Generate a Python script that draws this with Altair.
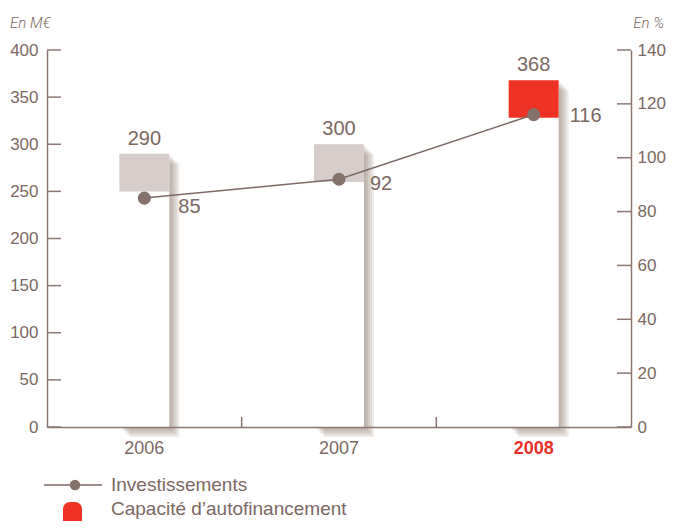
import altair as alt
import pandas as pd

# ---- data ----
years = ["2006", "2007", "2008"]
caf = [290, 300, 368]            # Capacité d'autofinancement (M€), bar tops
cap_low = [250, 260, 328]        # lower edge of the coloured top block
invest_pct = [85, 92, 116]       # Investissements (%), right axis
left_ticks = [0, 50, 100, 150, 200, 250, 300, 350, 400]
right_ticks = [0, 20, 40, 60, 80, 100, 120, 140]

# ---- styles ----
TXT = "#7b6863"
AXIS = "#8a7772"
LINE = "#7c6964"
DOT = "#85716b"
GREY = "#d7cdca"
RED = "#ee3325"
RED_TXT = "#e8302a"
SHADOW = "#8f766e"
FONT = "Liberation Sans"
W, H = 584, 377

df = pd.DataFrame({"year": years, "caf": caf, "cap_low": cap_low, "pct": invest_pct})

x_scale = alt.Scale(domain=years, paddingInner=0, paddingOuter=0)
x_axis = alt.Axis(title=None, ticks=False, labelPadding=12, labelFontSize=18,
                  labelFont=FONT, labelAngle=0,
                  labelColor={"expr": f"datum.value === '2008' ? '{RED_TXT}' : '{TXT}'"},
                  labelFontWeight={"expr": "datum.value === '2008' ? 'bold' : 'normal'"},
                  domainColor=AXIS, domainWidth=1.5, zindex=1)
x_enc = alt.X("year:N", scale=x_scale, axis=x_axis, sort=years)

ls = alt.Scale(domain=[0, 400], nice=False, zero=True)
rs = alt.Scale(domain=[0, 140], nice=False, zero=True)

base = alt.Chart(df)

layers = []
# soft drop shadows
for k in [2, 4, 6, 8, 10]:
    layers.append(base.mark_bar(size=50, xOffset=k, yOffset=k, color=SHADOW, opacity=0.15).encode(
        x=x_enc, y=alt.Y("caf:Q", scale=ls, axis=None)))

# white bar body
layers.append(base.mark_bar(size=50, color="white").encode(
    x=x_enc,
    y=alt.Y("caf:Q", scale=ls,
            axis=alt.Axis(orient="left", values=left_ticks, ticks=False, grid=False, title=None,
                          labelFontSize=17, labelFont=FONT, labelColor=TXT, labelPadding=9,
                          labelFlush=False, labelOverlap=False,
                          domainColor=AXIS, domainWidth=1.5, zindex=1))))

# coloured top block
layers.append(base.mark_bar(size=50).encode(
    x=x_enc,
    y=alt.Y("cap_low:Q", scale=ls, axis=None),
    y2="caf:Q",
    color=alt.condition(alt.datum.year == "2008", alt.value(RED), alt.value(GREY))))

# bar value labels
layers.append(base.mark_text(baseline="alphabetic", dy=-9, fontSize=20, font=FONT, color=TXT).encode(
    x=x_enc, y=alt.Y("caf:Q", scale=ls, axis=None), text="caf:Q"))

# inward ticks, left axis
layers.append(alt.Chart(pd.DataFrame({"v": left_ticks})).mark_rule(color=AXIS, strokeWidth=1.5).encode(
    y=alt.Y("v:Q", scale=ls, axis=None), x=alt.value(0), x2=alt.value(14)))

# inward ticks, right axis
layers.append(alt.Chart(pd.DataFrame({"v": right_ticks})).mark_rule(color=AXIS, strokeWidth=1.5).encode(
    y=alt.Y("v:Q", scale=rs, axis=None), x=alt.value(W - 14), x2=alt.value(W)))

# x ticks between categories
layers.append(base.transform_filter(alt.datum.year != "2006").mark_rule(color=AXIS, strokeWidth=1.5).encode(
    x=alt.X("year:N", scale=x_scale, axis=x_axis, sort=years, bandPosition=0),
    y=alt.value(H), y2=alt.value(H - 10)))

# investment line (right axis)
layers.append(base.mark_line(color=LINE, strokeWidth=1.5).encode(
    x=x_enc,
    y=alt.Y("pct:Q", scale=rs,
            axis=alt.Axis(orient="right", values=right_ticks, ticks=False, grid=False, title=None,
                          labelFontSize=17, labelFont=FONT, labelColor=TXT, labelPadding=6,
                          labelFlush=False, labelOverlap=False,
                          domainColor=AXIS, domainWidth=1.5, zindex=1))))
layers.append(base.mark_point(filled=True, size=170, color=DOT, opacity=1).encode(
    x=x_enc, y=alt.Y("pct:Q", scale=rs, axis=None)))

# line value labels
offsets = {"2006": (34, 9), "2007": (31, 5), "2008": (36, 1)}
for yr, (dx, dy) in offsets.items():
    layers.append(base.transform_filter(alt.datum.year == yr).mark_text(
        align="left", baseline="middle", dx=dx, dy=dy, fontSize=20, font=FONT, color=TXT).encode(
        x=x_enc, y=alt.Y("pct:Q", scale=rs, axis=None), text="pct:Q"))

one = alt.Chart(alt.Data(values=[{"a": 1}]))
# unit titles
layers.append(one.mark_text(align="left", baseline="alphabetic", fontSize=15, font="Roboto",
                            fontStyle="italic", fontWeight=300, color=TXT).encode(
    x=alt.value(-37), y=alt.value(-22), text=alt.value("En M€")))
layers.append(one.mark_text(align="right", baseline="alphabetic", fontSize=15, font="Roboto",
                            fontStyle="italic", fontWeight=300, color=TXT).encode(
    x=alt.value(617), y=alt.value(-22), text=alt.value("En %")))

# manual legend
layers.append(one.mark_rule(color=LINE, strokeWidth=1.5).encode(
    x=alt.value(-3), x2=alt.value(55), y=alt.value(435)))
layers.append(one.mark_point(filled=True, size=110, color=DOT, opacity=1).encode(
    x=alt.value(28), y=alt.value(435)))
layers.append(one.mark_text(align="left", baseline="middle", fontSize=19, font=FONT, color=TXT).encode(
    x=alt.value(64), y=alt.value(435), text=alt.value("Investissements")))
layers.append(one.mark_rect(color=RED, cornerRadiusTopLeft=7, cornerRadiusTopRight=7).encode(
    x=alt.value(16), x2=alt.value(35), y=alt.value(452), y2=alt.value(471)))
layers.append(one.mark_text(align="left", baseline="middle", fontSize=19, font=FONT, color=TXT).encode(
    x=alt.value(64), y=alt.value(459), text=alt.value("Capacité d’autofinancement")))

chart = alt.layer(*layers).resolve_scale(y="independent").properties(
    width=W, height=H,
    padding={"left": 39, "top": 42, "right": 35, "bottom": 94},
    autosize=alt.AutoSizeParams(type="none"),
).configure_view(stroke=None)

chart.save("out.html", embed_options={"renderer": "svg", "actions": False})
